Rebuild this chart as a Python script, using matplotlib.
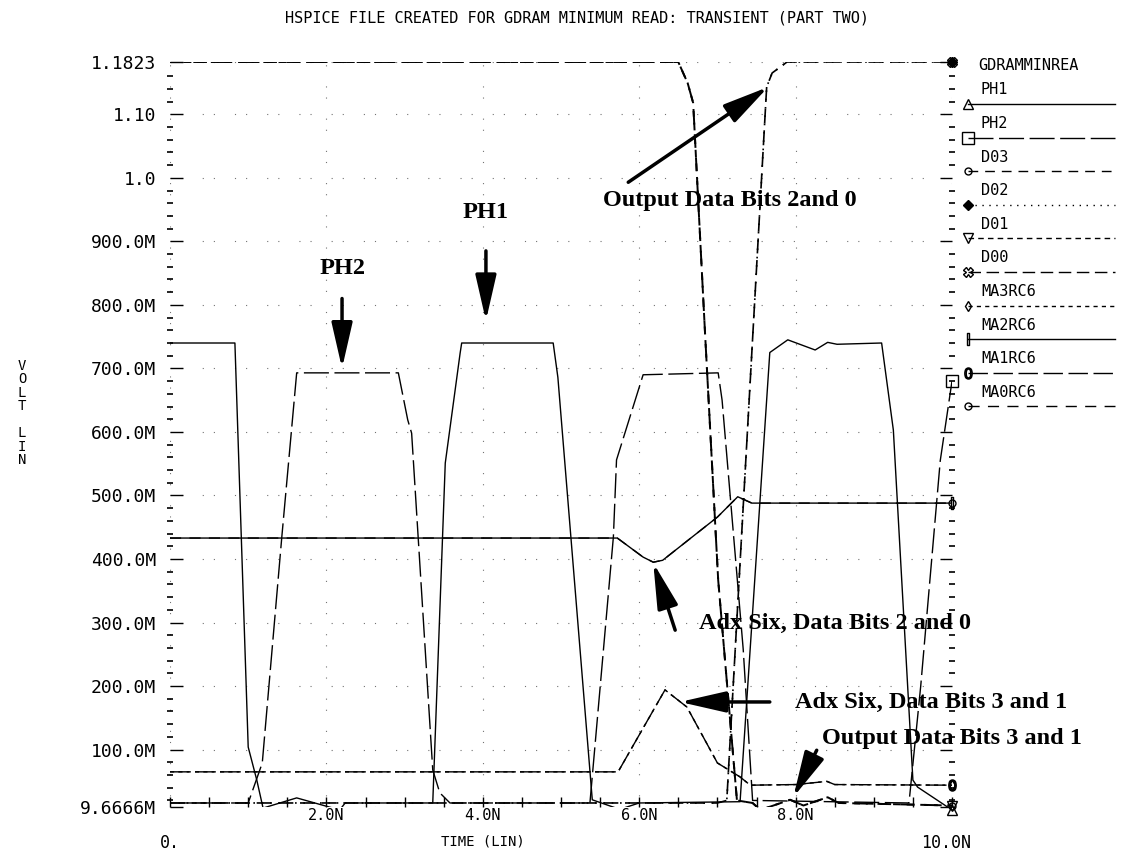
import matplotlib
matplotlib.use('Agg')
import matplotlib.pyplot as plt
from matplotlib.lines import Line2D
import numpy as np

W, H = 1134, 850

# tiempos en ns, tensiones en V
ph1_t = [0, 0.83, 1.0, 1.11, 1.19, 1.62, 2.17, 2.24, 3.36, 3.52, 3.71, 3.73, 4.90, 4.96,
         5.40, 5.75, 6.0, 7.29, 7.67, 7.9, 8.25, 8.41, 8.53, 9.1, 9.25, 9.5, 9.56, 10.0]
ph1_v = [0.740, 0.740, 0.104, 0.052, 0.008, 0.024, 0.005, 0.016, 0.016, 0.551, 0.724, 0.740,
         0.740, 0.686, 0.021, 0.006, 0.016, 0.018, 0.725, 0.745, 0.729, 0.741, 0.738, 0.740,
         0.603, 0.052, 0.041, 0.005]

ph2_t = [0, 1.0, 1.18, 1.43, 1.62, 2.92, 3.04, 3.09, 3.36, 3.45, 3.58, 5.37, 5.67, 5.71,
         6.05, 7.01, 7.06, 7.33, 7.45, 9.45, 9.6, 9.85, 10.0]
ph2_v = [0.016, 0.016, 0.079, 0.435, 0.693, 0.693, 0.619, 0.598, 0.068, 0.032, 0.016, 0.016,
         0.435, 0.556, 0.690, 0.693, 0.650, 0.258, 0.020, 0.016, 0.200, 0.555, 0.680]

# salidas que bajan (bits 3 y 1)
d03_t = [0, 6.5, 6.62, 6.69, 6.84, 7.01, 7.25, 7.45, 7.55, 7.93, 8.1, 8.41, 8.55, 10.0]
d03_v = [1.1823, 1.1823, 1.149, 1.118, 0.760, 0.367, 0.020, 0.016, 0.005, 0.021, 0.012,
         0.025, 0.016, 0.012]
d01_t = d03_t
d01_v = d03_v

# salidas que suben (bits 2 y 0)
d02_t = [0, 7.0, 7.12, 7.63, 7.7, 7.89, 10.0]
d02_v = [0.016, 0.016, 0.020, 1.143, 1.165, 1.1823, 1.1823]
d00_t = d02_t
d00_v = d02_v

# lineas de datos "Adx Six"
ma2_t = [0, 5.72, 6.05, 6.18, 6.3, 7.0, 7.26, 7.44, 10.0]
ma2_v = [0.433, 0.433, 0.403, 0.395, 0.398, 0.466, 0.498, 0.488, 0.488]
ma0_t = ma2_t
ma0_v = ma2_v

ma3_t = [0, 5.73, 6.33, 6.61, 7.0, 7.29, 7.42, 8.0, 8.4, 8.5, 10.0]
ma3_v = [0.065, 0.065, 0.194, 0.167, 0.079, 0.057, 0.044, 0.045, 0.050, 0.045, 0.044]
ma1_t = ma3_t
ma1_v = ma3_v

ytick_vals = [0.0096666, 0.1, 0.2, 0.3, 0.4, 0.5, 0.6, 0.7, 0.8, 0.9, 1.0, 1.1, 1.1823]
ytick_labels = ['9.6666M', '100.0M', '200.0M', '300.0M', '400.0M', '500.0M', '600.0M',
                '700.0M', '800.0M', '900.0M', '1.0', '1.10', '1.1823']
xtick_vals = [0, 2, 4, 6, 8, 10]
xtick_labels = ['', '2.0N', '4.0N', '6.0N', '8.0N', '']

mono = 'DejaVu Sans Mono'
serif = 'Liberation Serif'

fig = plt.figure(figsize=(W / 100, H / 100), dpi=100)
ax = fig.add_axes([170 / W, 1 - 807 / H, 782 / W, 745 / H])


def fx(x, y):
    # pixel -> fraccion de figura
    return x / W, 1 - y / H


# (nombre, t, v, estilo, marcador, ancho)
series = [
    ('PH1', ph1_t, ph1_v, '-', '^', 1.0),
    ('PH2', ph2_t, ph2_v, (0, (18, 4)), 's', 1.0),
    ('D03', d03_t, d03_v, (0, (7, 5)), 'o', 1.4),
    ('D02', d02_t, d02_v, (0, (1, 4)), 'D', 1.2),
    ('D01', d01_t, d01_v, (0, (4, 3)), 'v', 1.4),
    ('D00', d00_t, d00_v, (0, (9, 4)), 'X', 1.2),
    ('MA3RC6', ma3_t, ma3_v, (0, (3, 3)), 'd', 1.0),
    ('MA2RC6', ma2_t, ma2_v, '-', r'$\mathrm{I}$', 1.0),
    ('MA1RC6', ma1_t, ma1_v, (0, (14, 4)), r'$\mathrm{0}$', 1.0),
    ('MA0RC6', ma0_t, ma0_v, (0, (8, 6)), 'o', 1.0),
]

msize = {'^': 7, 's': 8, 'o': 5, 'D': 5, 'v': 7, 'X': 7, 'd': 5,
         r'$\mathrm{I}$': 8, r'$\mathrm{0}$': 8}

for name, t, v, ls, mk, lw in series:
    ax.plot(t, v, color='k', linestyle=ls, linewidth=lw)
    ax.plot(t[-1], v[-1], marker=mk, color='k', markersize=msize[mk],
            mfc='k' if mk == 'D' else 'none', clip_on=False)

ax.set_xlim(0, 10)
ax.set_ylim(0.0096666, 1.1823)

for s in ax.spines.values():
    s.set_visible(False)

ax.set_yticks(ytick_vals)
ax.set_yticklabels(ytick_labels, fontfamily=mono, fontsize=13)
ax.set_yticks(np.arange(0.02, 1.18, 0.02), minor=True)
ax.set_xticks(xtick_vals)
ax.set_xticklabels(xtick_labels, fontfamily=mono, fontsize=11)
ax.set_xticks(np.arange(0.5, 10, 0.5), minor=True)

ax.tick_params(axis='y', which='major', direction='in', length=9, width=1,
               left=True, right=True, pad=10)
ax.tick_params(axis='y', which='minor', direction='inout', length=4, width=1.2,
               left=True, right=True)
ax.tick_params(axis='x', which='both', direction='in', length=7, width=1,
               bottom=True, top=False, pad=1)

ax.grid(True, which='major', linestyle=(0, (1, 9, 1, 18)), linewidth=0.8, color='0.45')

# etiquetas del eje x desplazadas
ax.text(0, -0.048, '0.', transform=ax.get_xaxis_transform(), ha='center', va='center',
        fontfamily=mono, fontsize=12)
ax.text(9.92, -0.048, '10.0N', transform=ax.get_xaxis_transform(), ha='center', va='center',
        fontfamily=mono, fontsize=12)
ax.text(4.0, -0.046, 'TIME (LIN)', transform=ax.get_xaxis_transform(), ha='center',
        va='center', fontfamily=mono, fontsize=10)

fig.text(*fx(577, 18), 'HSPICE FILE CREATED FOR GDRAM MINIMUM READ: TRANSIENT (PART TWO)',
         ha='center', va='center', fontfamily=mono, fontsize=11)
fig.text(*fx(22, 413), 'V\nO\nL\nT\n\nL\nI\nN', ha='center', va='center',
         fontfamily=mono, fontsize=10, linespacing=0.95)

# leyenda a la derecha
fig.text(*fx(978, 66), 'GDRAMMINREA', ha='left', va='center', fontfamily=mono, fontsize=11)
for i, (name, t, v, ls, mk, lw) in enumerate(series):
    y_line = 104 + 33.6 * i
    fig.text(*fx(981, y_line - 14), name, ha='left', va='center', fontfamily=mono, fontsize=11)
    x0, y0 = fx(968, y_line)
    x1, _ = fx(1115, y_line)
    fig.add_artist(Line2D([x0, x1], [y0, y0], color='k', linestyle=ls, linewidth=1.0,
                          transform=fig.transFigure))
    fig.add_artist(Line2D([x0], [y0], color='k', marker=mk, markersize=msize[mk],
                          mfc='k' if mk == 'D' else 'none', transform=fig.transFigure))

# anotaciones con flechas
arrow = dict(arrowstyle='-|>,head_length=1.4,head_width=0.32', lw=2.5, color='k',
             shrinkA=0, shrinkB=0, mutation_scale=20)
tfont = dict(fontfamily=serif, fontweight='bold', fontsize=17.5)

ax.text(2.2, 0.858, 'PH2', ha='center', va='center', **tfont)
ax.annotate('', xy=(2.2, 0.700), xytext=(2.2, 0.810), arrowprops=arrow)

ax.text(4.03, 0.945, 'PH1', ha='center', va='center', **tfont)
ax.annotate('', xy=(4.04, 0.775), xytext=(4.04, 0.885), arrowprops=arrow)

ax.text(5.54, 0.965, 'Output Data Bits 2and 0', ha='left', va='center', **tfont)
ax.annotate('', xy=(7.65, 1.143), xytext=(5.86, 0.993), arrowprops=arrow)

ax.text(6.76, 0.299, 'Adx Six, Data Bits 2 and 0', ha='left', va='center', **tfont)
ax.annotate('', xy=(6.18, 0.394), xytext=(6.46, 0.288), arrowprops=arrow)

ax.text(7.99, 0.175, 'Adx Six, Data Bits 3 and 1', ha='left', va='center', **tfont)
ax.annotate('', xy=(6.52, 0.175), xytext=(7.67, 0.175), arrowprops=arrow)

ax.text(8.34, 0.118, 'Output Data Bits 3 and 1', ha='left', va='center', **tfont)
ax.annotate('', xy=(7.97, 0.025), xytext=(8.27, 0.099), arrowprops=arrow)

fig.savefig('out.png', dpi=100)
